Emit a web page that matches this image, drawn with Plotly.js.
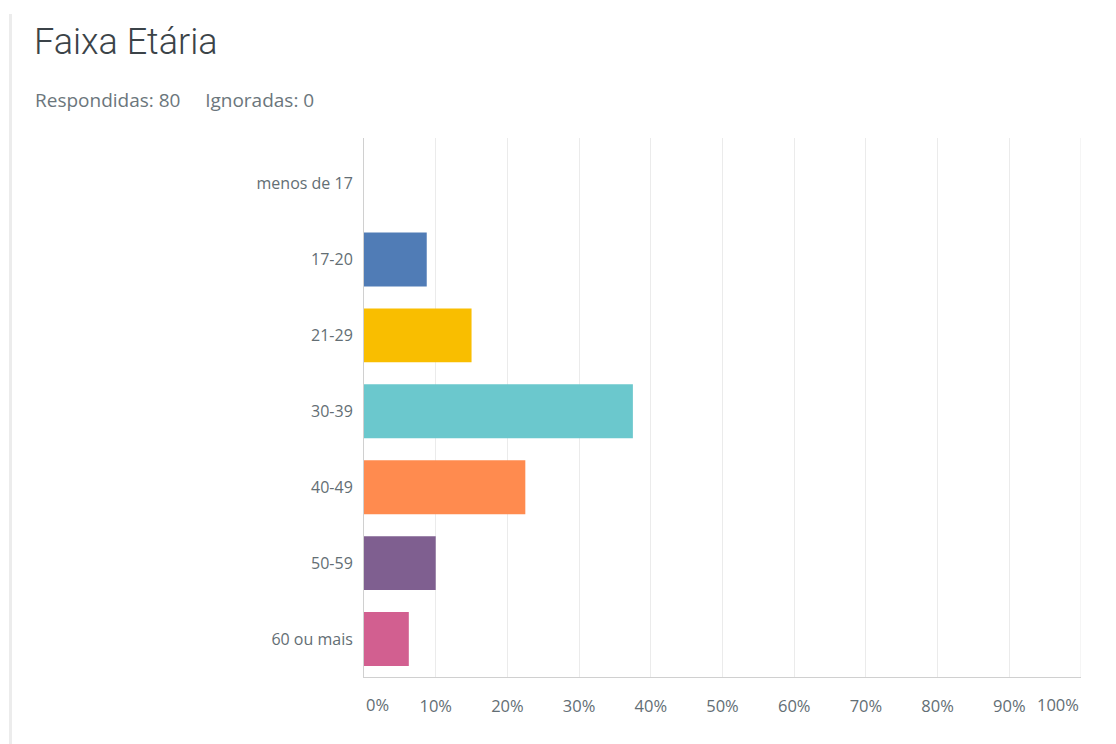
<!DOCTYPE html>
<html>
<head>
<meta charset="utf-8">
<script src="https://cdn.plot.ly/plotly-3.0.1.min.js"></script>
<style>
  html, body { margin: 0; padding: 0; background: #fff; }
  #wrap { position: relative; width: 1116px; height: 744px; overflow: hidden; }
  #border { position: absolute; left: 9px; top: 14px; width: 3px; height: 740px; background: #ececec; }
  #chart { position: absolute; left: 0; top: 0; width: 1116px; height: 744px; }
</style>
</head>
<body>
<div id="wrap">
  <div id="chart"></div>
  <div id="border"></div>
</div>
<script>
const chartTitle = "Faixa Etária";
const subtitle = "Respondidas: 80\u00a0\u00a0\u00a0\u00a0\u00a0Ignoradas: 0";
const categories = ["menos de 17", "17-20", "21-29", "30-39", "40-49", "50-59", "60 ou mais"];
const percentages = [0, 8.75, 15, 37.5, 22.5, 10, 6.25];
const barColors = ["#73a1d3", "#507cb6", "#f9be00", "#6bc8cd", "#ff8b4f", "#7f5f90", "#d25f90"];
const xTickValues = [0, 10, 20, 30, 40, 50, 60, 70, 80, 90, 100];
const xTickLabels = ["0%", "10%", "20%", "30%", "40%", "50%", "60%", "70%", "80%", "90%", "100%"];

const fontFam = "Open Sans, Roboto, sans-serif";
const labelColor = "#636e74";
const xFontSize = 16.5;
const yFontSize = 16;

const trace = {
  type: "bar",
  orientation: "h",
  x: percentages,
  y: categories,
  marker: { color: barColors, line: { width: 0 } },
  hoverinfo: "none"
};

// inner ticks on axis (10..90); ends placed as annotations aligned inside
const innerVals = xTickValues.slice(1, -1);
const innerText = xTickLabels.slice(1, -1);

const layout = {
  width: 1116,
  height: 744,
  margin: { l: 363.5, r: 35, t: 138, b: 67 },
  paper_bgcolor: "#ffffff",
  plot_bgcolor: "#ffffff",
  showlegend: false,
  bargap: 0.29,
  font: { family: fontFam, color: labelColor, size: 14 },
  title: {
    text: chartTitle,
    x: 34 / 1116,
    xanchor: "left",
    xref: "container",
    y: 1 - 41 / 744,
    yanchor: "middle",
    yref: "container",
    font: { family: "Roboto, sans-serif", size: 36, weight: 300, color: "#3b4348" }
  },
  xaxis: {
    range: [0, 100],
    tickmode: "array",
    tickvals: innerVals,
    ticktext: innerText,
    showgrid: true,
    gridcolor: "#ebebeb",
    gridwidth: 1,
    zeroline: false,
    showline: true,
    linecolor: "#d0d0d0",
    linewidth: 1,
    ticks: "outside",
    ticklen: 14,
    tickcolor: "rgba(0,0,0,0)",
    tickfont: { family: fontFam, size: xFontSize, color: labelColor },
    fixedrange: true
  },
  yaxis: {
    type: "category",
    range: [6.5, -0.6],
    showgrid: false,
    zeroline: false,
    showline: true,
    linecolor: "#d0d0d0",
    linewidth: 1,
    ticks: "outside",
    ticklen: 7,
    tickcolor: "rgba(0,0,0,0)",
    tickfont: { family: fontFam, size: yFontSize, color: labelColor },
    fixedrange: true
  },
  shapes: [
    {
      type: "line", xref: "x", yref: "paper",
      x0: 100, x1: 100, y0: 0, y1: 1,
      line: { color: "#ebebeb", width: 1 }
    }
  ],
  annotations: [
    {
      text: subtitle,
      xref: "paper", yref: "paper",
      x: (32 - 363.5) / 717.5, xanchor: "left",
      y: 1 + (138 - 100) / 539, yanchor: "middle",
      showarrow: false,
      font: { family: fontFam, size: 19, color: "#6b767c" }
    },
    {
      text: xTickLabels[0],
      xref: "x", yref: "paper",
      x: xTickValues[0], xanchor: "left",
      y: 0, yanchor: "top", yshift: -14,
      showarrow: false,
      font: { family: fontFam, size: xFontSize, color: labelColor }
    },
    {
      text: xTickLabels[xTickLabels.length - 1],
      xref: "x", yref: "paper",
      x: xTickValues[xTickValues.length - 1], xanchor: "right",
      y: 0, yanchor: "top", yshift: -14,
      showarrow: false,
      font: { family: fontFam, size: xFontSize, color: labelColor }
    }
  ]
};

Plotly.newPlot("chart", [trace], layout, { displayModeBar: false, staticPlot: true });
</script>
</body>
</html>
